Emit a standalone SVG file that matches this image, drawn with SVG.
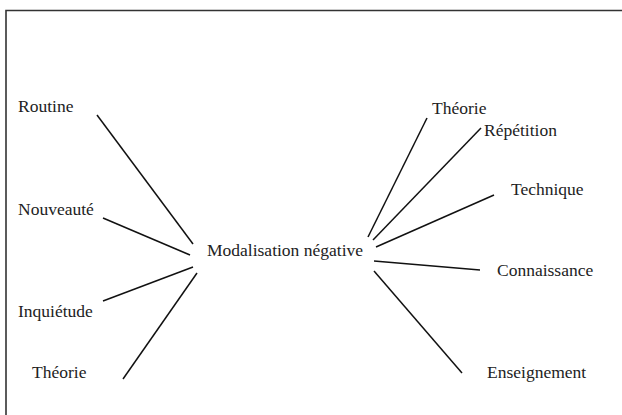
<svg xmlns="http://www.w3.org/2000/svg" width="622" height="415" viewBox="0 0 622 415">
<style>
.c line{stroke:#111;stroke-width:1.5}
</style>
<rect width="622" height="415" fill="#fff"/>
<path d="M6,420 V10.5 H630" fill="none" stroke="#333" stroke-width="1.6"/>
<g font-family="'Liberation Serif', 'Times New Roman', 'DejaVu Serif', serif" font-size="17.5" fill="#222">
<g id="center"><text x="207" y="256">Modalisation négative</text></g>
<g id="routine"><text x="18" y="112">Routine</text></g>
<g id="nouveaute"><text x="18" y="215">Nouveauté</text></g>
<g id="inquietude"><text x="18" y="317">Inquiétude</text></g>
<g id="theorie-left"><text x="32" y="378">Théorie</text></g>
<g id="theorie-right"><text x="432" y="114">Théorie</text></g>
<g id="repetition"><text x="484" y="136">Répétition</text></g>
<g id="technique"><text x="511" y="195">Technique</text></g>
<g id="connaissance"><text x="497" y="276">Connaissance</text></g>
<g id="enseignement"><text x="487" y="378">Enseignement</text></g>
</g>
<g class="c" id="connectors">
<line x1="97" y1="115" x2="193" y2="244"/>
<line x1="103" y1="218" x2="190" y2="255"/>
<line x1="103" y1="301" x2="193" y2="267"/>
<line x1="123" y1="379" x2="197" y2="273"/>
<line x1="427" y1="118" x2="368" y2="237"/>
<line x1="481" y1="128" x2="373" y2="240"/>
<line x1="494" y1="195" x2="376" y2="247"/>
<line x1="374" y1="261" x2="480" y2="270"/>
<line x1="374" y1="271" x2="462" y2="373"/>
</g>
</svg>
